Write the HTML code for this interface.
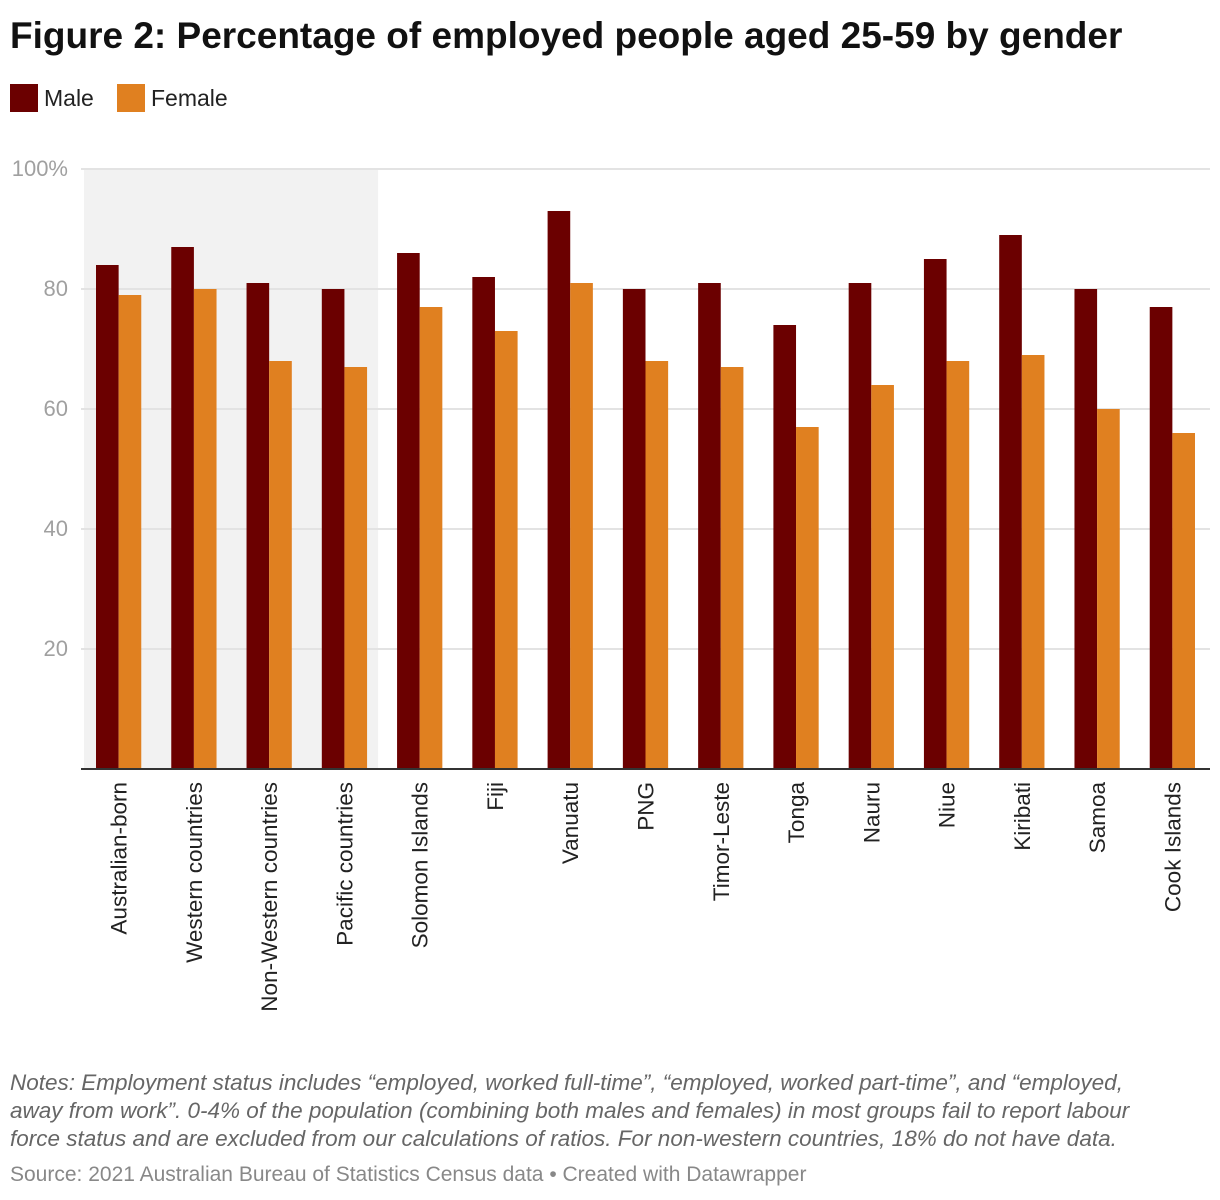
<!DOCTYPE html>
<html><head><meta charset="utf-8"><style>
body{margin:0;background:#fff;width:1220px;height:1200px;overflow:hidden;font-family:"Liberation Sans",sans-serif}
#title{position:absolute;left:10px;top:15px;font-size:37px;font-weight:bold;color:#111;margin:0;white-space:nowrap}
.leg{position:absolute;top:84px;height:28px;display:flex;align-items:center;font-size:23px;color:#222}
.sw{width:28px;height:28px;margin-right:6px}
#notes{position:absolute;left:10px;top:1069px;width:1200px;font-size:22.5px;line-height:28px;font-style:italic;color:#666}
#source{position:absolute;left:10px;top:1163px;font-size:21px;color:#888;white-space:nowrap}
</style></head><body>
<h1 id="title">Figure 2: Percentage of employed people aged 25-59 by gender</h1>
<div class="leg" style="left:10px"><div class="sw" style="background:#6b0000"></div>Male</div>
<div class="leg" style="left:117px"><div class="sw" style="background:#e08020"></div>Female</div>
<svg id="chart" width="1220" height="1050" style="position:absolute;left:0;top:0"></svg>
<div id="notes">Notes: Employment status includes “employed, worked full-time”, “employed, worked part-time”, and “employed,<br>away from work”. 0-4% of the population (combining both males and females) in most groups fail to report labour<br>force status and are excluded from our calculations of ratios. For non-western countries, 18% do not have data.</div>
<div id="source">Source: 2021 Australian Bureau of Statistics Census data • Created with Datawrapper</div>
<script>
const categories=["Australian-born","Western countries","Non-Western countries","Pacific countries","Solomon Islands","Fiji","Vanuatu","PNG","Timor-Leste","Tonga","Nauru","Niue","Kiribati","Samoa","Cook Islands"];
const male=[84,87,81,80,86,82,93,80,81,74,81,85,89,80,77];
const female=[79,80,68,67,77,73,81,68,67,57,64,68,69,60,56];
const ticks=[20,40,60,80,100];
const tickLabels=["20","40","60","80","100%"];
const shadedCount=4;
const NS="http://www.w3.org/2000/svg";
const svg=document.getElementById('chart');
const x0=81,x1=1210,y0=769,y100=169;
const bw=(x1-x0)/categories.length;
const y=v=>y0-(v/100)*(y0-y100);
const bx=i=>x0+i*bw;
function mk(t,a){const e=document.createElementNS(NS,t);for(const k in a)e.setAttribute(k,a[k]);svg.appendChild(e);return e;}
let sh=mk('rect',{x:84,y:y(100),width:bx(shadedCount)-4-84,height:y0-y(100),fill:'#f2f2f2'});


ticks.forEach((t,i)=>{
 let g=mk('line',{x1:x0,x2:x1,y1:y(t),y2:y(t),stroke:'#e3e3e3','stroke-width':2});
 
 
 let tx=mk('text',{x:68,y:y(t)+7,'text-anchor':'end','font-size':22,fill:'#a0a0a0','font-family':'Liberation Sans'});
 tx.textContent=tickLabels[i];
 
 
});
const pad=15,bar=(bw-2*pad)/2;
categories.forEach((c,i)=>{
 let m=mk('rect',{x:bx(i)+pad,y:y(male[i]),width:bar,height:y0-y(male[i]),fill:'#6b0000'});
 
 
 let f=mk('rect',{x:bx(i)+pad+bar,y:y(female[i]),width:bar,height:y0-y(female[i]),fill:'#e08020'});
 
 
 const cx=bx(i)+bw/2;
 let t=mk('text',{x:0,y:0,'text-anchor':'end','font-size':22.5,fill:'#222','font-family':'Liberation Sans',transform:`translate(${cx+8},782) rotate(-90)`});
 t.textContent=c;
 
 
});
let ax=mk('line',{x1:x0,x2:x1,y1:y0,y2:y0,stroke:'#333','stroke-width':2});


</script>
</body></html>
